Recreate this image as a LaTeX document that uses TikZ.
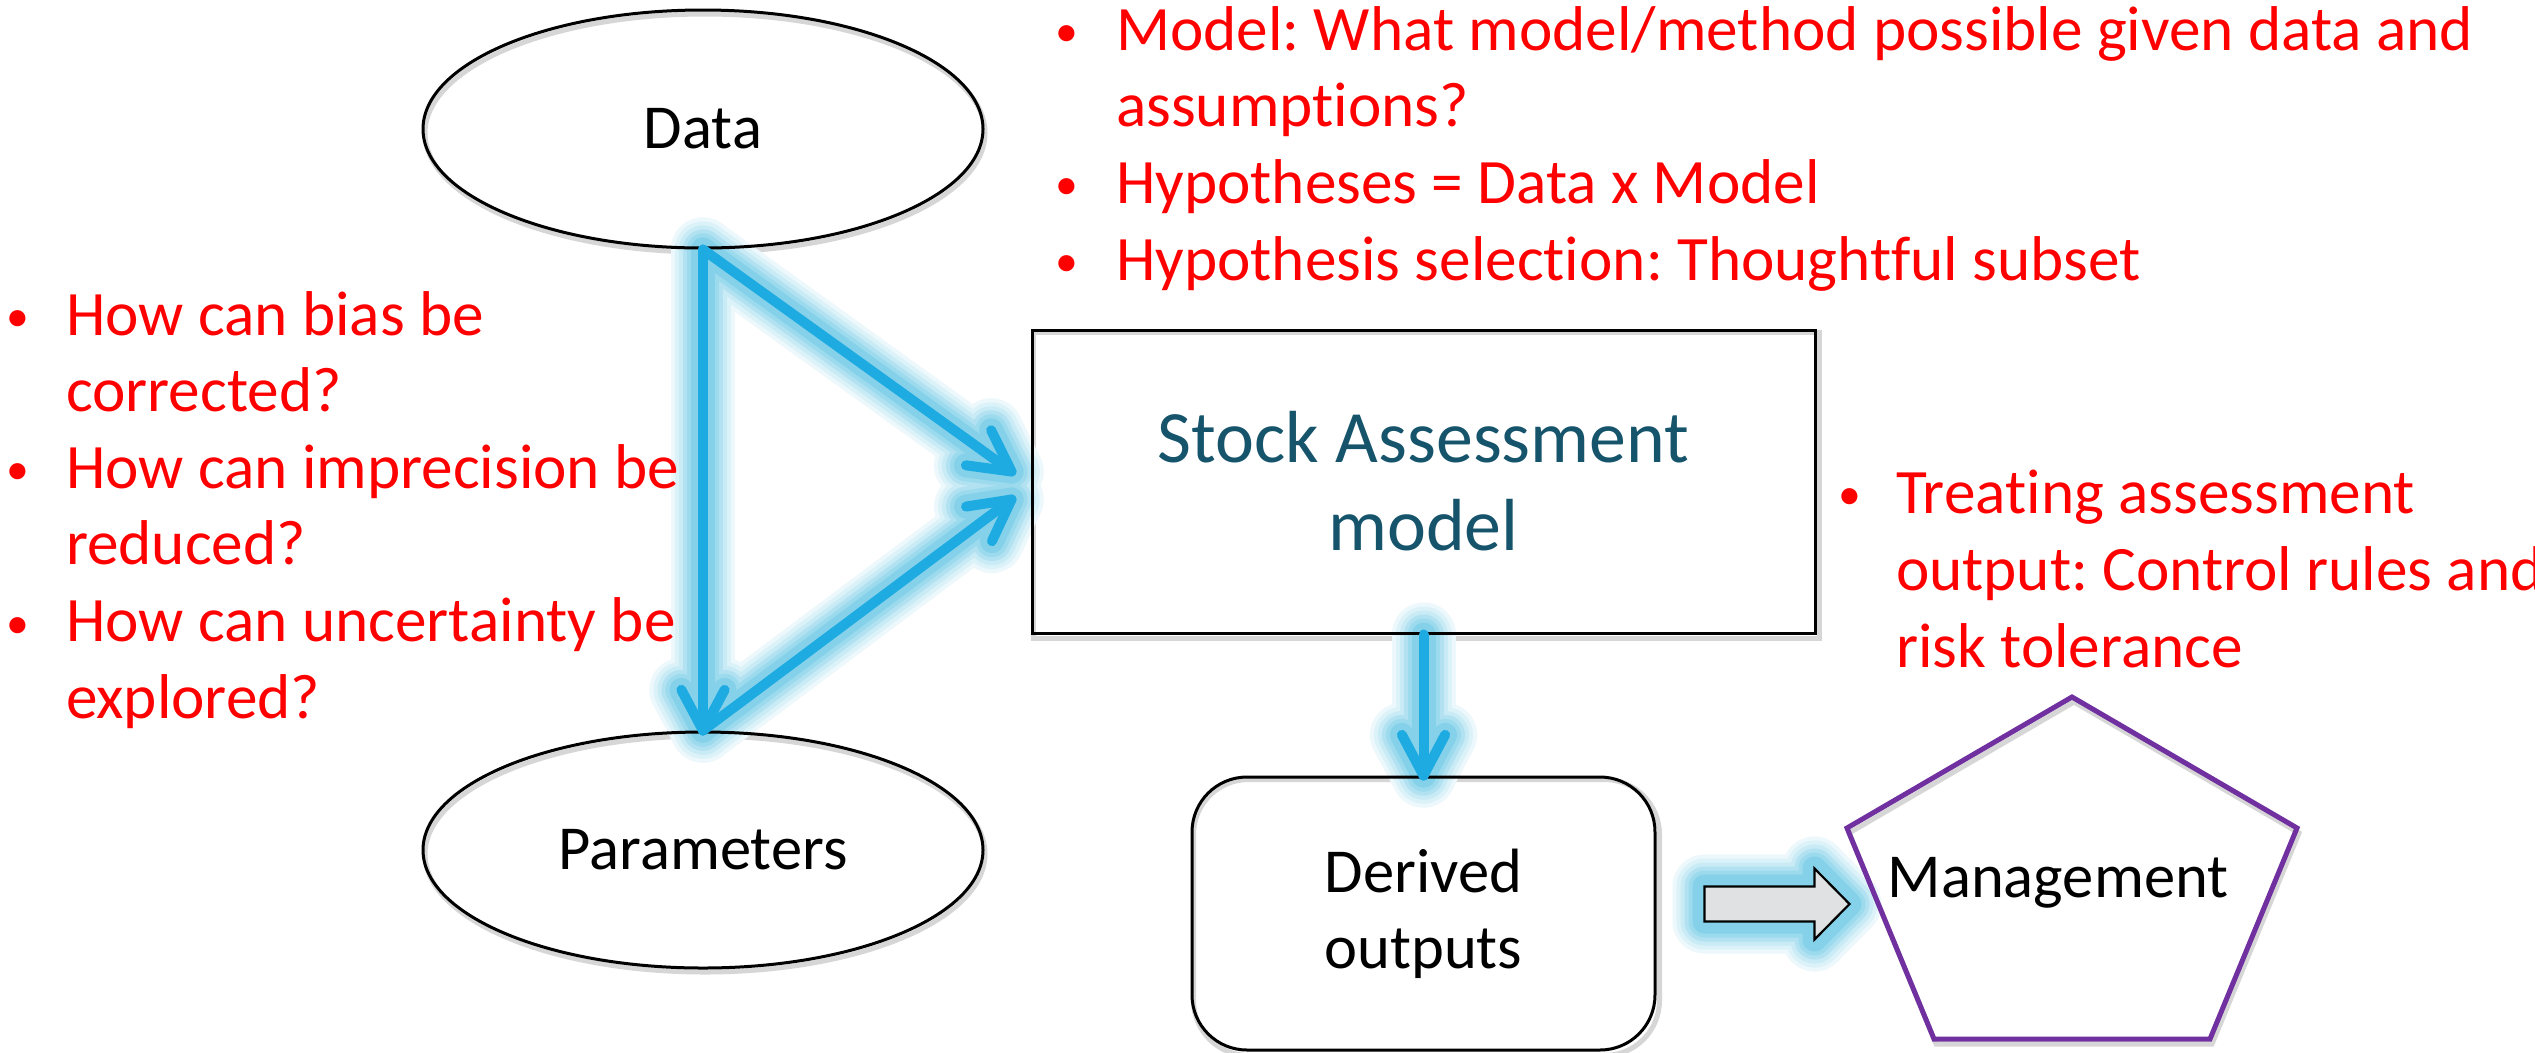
\documentclass[tikz,border=0pt]{standalone}
\usepackage{fontspec}
\setmainfont{Carlito}[Ligatures={NoCommon,NoRequired,NoContextual}]
\usetikzlibrary{calc,shapes.geometric}
\pgfdeclarelayer{bg}
\pgfdeclarelayer{glowlayer}
\pgfsetlayers{bg,glowlayer,main}
\frenchspacing

\definecolor{flowblue}{RGB}{29,171,226}
\definecolor{glowc}{RGB}{95,195,226}
\definecolor{boxteal}{RGB}{22,84,108}
\definecolor{pentapurple}{RGB}{112,48,160}
\definecolor{arrowgray}{RGB}{223,225,227}
\definecolor{textred}{RGB}{255,0,0}

\newcommand\fsz[2]{\fontsize{#1}{#2}\selectfont}
% open chevron head: #1 = start of the arrow, #2 = its tip
\newcommand\headchev[2]{\draw ($(#2)!4.6mm!28:(#1)$) -- (#2) -- ($(#2)!4.6mm!-28:(#1)$);}
% all flow arrows, stroked in the current style
\newcommand\flowpaths{%
  \draw (data.south) -- (params.north);
  \headchev{data.south}{params.north}
  \draw (data.south) -- (tipA);
  \headchev{data.south}{tipA}
  \draw (params.north) -- (tipB);
  \headchev{params.north}{tipB}
  \draw (sam.south) -- (derived.north);
  \headchev{sam.south}{derived.north}
}
% block arrow from the derived outputs towards management
\newcommand\blockarrow[1]{%
  \path[#1] (ba) ++(0,-17) -- ++(110,0) -- ++(0,-18) -- ++(35,35.5)
    -- ++(-35,35.5) -- ++(0,-18) -- ++(-110,0) -- cycle;
}

\begin{document}
\begin{tikzpicture}[x=0.1mm, y=-0.1mm,
  outline/.style={draw=black, line width=0.3mm},
  shadowline/.style={draw=black!16, line width=0.5mm},
  blacklabel/.style={font=\fsz{17.8}{21.6}, text=black},
  redline/.style={text=textred, font=\fsz{18}{22}, anchor=base west, inner sep=0pt, outer sep=0pt},
  redbullet/.style={text=textred, font=\fsz{13}{22}, anchor=base west, inner sep=0pt, outer sep=0pt},
  flow/.style={draw=flowblue, line width=1mm, line cap=round, line join=round}]

\path[use as bounding box] (0,0) rectangle (2535,1052);
\clip (0,0) rectangle (2535,1052);

% ---- shapes ----
\node[ellipse, outline, minimum width=56mm, minimum height=23.8mm, blacklabel] (data) at (703,129) {Data};
\node[ellipse, outline, minimum width=56mm, minimum height=23.6mm, blacklabel] (params) at (703,850) {Parameters};
\node[rectangle, outline, minimum width=78.3mm, minimum height=30.3mm, align=center,
      text=boxteal, font=\fsz{21}{25}] (sam) at (1423.5,481.5) {Stock Assessment\\model};
\node[rectangle, outline, rounded corners=5.5mm, minimum width=46.3mm, minimum height=27.3mm,
      align=center, blacklabel] (derived) at (1423.5,913.5) {Derived\\outputs};

% management pentagon
\coordinate (p1) at (2072,697);
\coordinate (p2) at (2297,828);
\coordinate (p3) at (2210,1039);
\coordinate (p4) at (1934,1039);
\coordinate (p5) at (1847,828);
\draw[draw=pentapurple, line width=0.5mm, line join=miter] (p1) -- (p2) -- (p3) -- (p4) -- (p5) -- cycle;
\node[blacklabel, anchor=base, inner sep=0pt] (mgmt) at (2058,897) {Management};

% arrow end points
\coordinate (tipA) at ($(sam.west)+(-19,-10)$);
\coordinate (tipB) at ($(sam.west)+(-19,18)$);
\coordinate (ba) at ($(derived.east)+(48,-10)$);

% ---- background and shadows ----
\begin{pgfonlayer}{bg}
  \fill[white] (0,0) rectangle (2535,1052);
  \draw[shadowline] ($(data.center)+(2,4)$) ellipse [x radius=28mm, y radius=11.9mm];
  \draw[shadowline] ($(params.center)+(2,4)$) ellipse [x radius=28mm, y radius=11.8mm];
  \draw[shadowline] ($(sam.south west)+(3,4)$) rectangle ($(sam.north east)+(3,4)$);
  \draw[shadowline, rounded corners=5.5mm] ($(derived.south west)+(3,4)$) rectangle ($(derived.north east)+(3,4)$);
  \draw[shadowline] ($(p1)+(2,5)$) -- ($(p2)+(2,5)$) -- ($(p3)+(2,5)$) -- ($(p4)+(2,5)$) -- ($(p5)+(2,5)$) -- cycle;
\end{pgfonlayer}

% ---- glow behind the flow arrows ----
\begin{pgfonlayer}{glowlayer}
  \foreach \w/\c in {6.4/12, 5.6/22, 4.8/34, 4.0/48, 3.2/62, 2.4/76}{
    \begin{scope}[draw=glowc!\c, fill=glowc!\c, line width=\w mm, line cap=round, line join=round]
      \flowpaths
      \blockarrow{draw, fill}
    \end{scope}
  }
\end{pgfonlayer}

% ---- flow arrows ----
\begin{scope}[flow]
  \flowpaths
\end{scope}
\blockarrow{draw=black, line width=0.22mm, fill=arrowgray, line join=miter}

% ---- notes ----
\foreach \t [count=\i] in {{Model: What model/method possible given data and}, {assumptions?},
    {Hypotheses = Data x Model}, {Hypothesis selection: Thoughtful subset}}
  \node[redline, name=top\i] at (1116, {50+76.7*(\i-1)}) {\t};
\foreach \y [count=\i] in {50, 203, 280}
  \node[redbullet, name=topb\i] at (1055, {\y-4}) {•};

\foreach \t [count=\i] in {{How can bias be}, {corrected?}, {How can imprecision be},
    {reduced?}, {How can uncertainty be}, {explored?}}
  \node[redline, name=left\i] at (66, {335+76.6*(\i-1)}) {\t};
\foreach \y [count=\i] in {335, 488, 642}
  \node[redbullet, name=leftb\i] at (7, {\y-4}) {•};

\foreach \t [count=\i] in {{Treating assessment}, {output: Control rules and}, {risk tolerance}}
  \node[redline, name=right\i] at (1896, {513+77*(\i-1)}) {\t};
\node[redbullet, name=rightb1] at (1838, 509) {•};

\end{tikzpicture}
\end{document}
